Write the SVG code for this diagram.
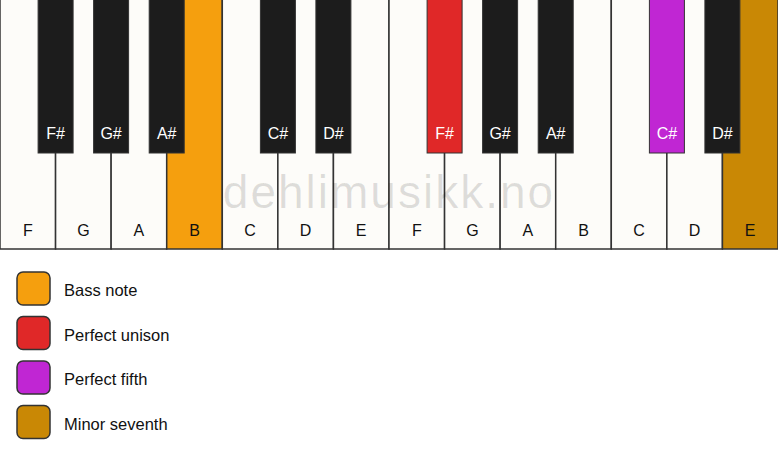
<svg xmlns="http://www.w3.org/2000/svg" width="778" height="461" viewBox="0 0 778 461">
<style>
.w{fill:#fdfcf9;stroke:#333;stroke-width:1.5}
.b{fill:#1c1c1c;stroke:#333;stroke-width:1}
.wl{font-family:"Liberation Sans",Arial,sans-serif;font-size:16px;fill:#111;text-anchor:middle}
.bl{font-family:"Liberation Sans",Arial,sans-serif;font-size:16px;fill:#fff;text-anchor:middle}
.lg{fill:#ccc;stroke:#333;stroke-width:1.5}
.lt{font-family:"Liberation Sans",Arial,sans-serif;font-size:16.5px;fill:#111}
.wm{font-family:"Liberation Sans",Arial,sans-serif;font-size:46px;fill:#000;fill-opacity:0.12;text-anchor:middle;letter-spacing:2px}
</style>
<rect width="778" height="461" fill="#fff"/>
<g id="white-keys">
<g id="wF1"><rect class="w" x="0" y="-2" width="55.57" height="251"/><text class="wl" x="27.8" y="236">F</text></g>
<g id="wG1"><rect class="w" x="55.57" y="-2" width="55.57" height="251"/><text class="wl" x="83.4" y="236">G</text></g>
<g id="wA1"><rect class="w" x="111.14" y="-2" width="55.57" height="251"/><text class="wl" x="138.9" y="236">A</text></g>
<g id="wB1"><rect class="w" x="166.71" y="-2" width="55.57" height="251" style="fill:#f59f0e"/><text class="wl" x="194.5" y="236">B</text></g>
<g id="wC1"><rect class="w" x="222.29" y="-2" width="55.57" height="251"/><text class="wl" x="250.1" y="236">C</text></g>
<g id="wD1"><rect class="w" x="277.86" y="-2" width="55.57" height="251"/><text class="wl" x="305.6" y="236">D</text></g>
<g id="wE1"><rect class="w" x="333.43" y="-2" width="55.57" height="251"/><text class="wl" x="361.2" y="236">E</text></g>
<g id="wF2"><rect class="w" x="389" y="-2" width="55.57" height="251"/><text class="wl" x="416.8" y="236">F</text></g>
<g id="wG2"><rect class="w" x="444.57" y="-2" width="55.57" height="251"/><text class="wl" x="472.4" y="236">G</text></g>
<g id="wA2"><rect class="w" x="500.14" y="-2" width="55.57" height="251"/><text class="wl" x="527.9" y="236">A</text></g>
<g id="wB2"><rect class="w" x="555.71" y="-2" width="55.57" height="251"/><text class="wl" x="583.5" y="236">B</text></g>
<g id="wC2"><rect class="w" x="611.29" y="-2" width="55.57" height="251"/><text class="wl" x="639.1" y="236">C</text></g>
<g id="wD2"><rect class="w" x="666.86" y="-2" width="55.57" height="251"/><text class="wl" x="694.6" y="236">D</text></g>
<g id="wE2"><rect class="w" x="722.43" y="-2" width="55.57" height="251" style="fill:#c98805"/><text class="wl" x="750.2" y="236">E</text></g>
</g>
<text class="wm" x="389" y="208">dehlimusikk.no</text>
<g id="black-keys">
<g id="bFs1"><rect class="b" x="38.1" y="-2" width="35" height="155"/><text class="bl" x="55.6" y="139">F#</text></g>
<g id="bGs1"><rect class="b" x="93.6" y="-2" width="35" height="155"/><text class="bl" x="111.1" y="139">G#</text></g>
<g id="bAs1"><rect class="b" x="149.2" y="-2" width="35" height="155"/><text class="bl" x="166.7" y="139">A#</text></g>
<g id="bCs1"><rect class="b" x="260.4" y="-2" width="35" height="155"/><text class="bl" x="277.9" y="139">C#</text></g>
<g id="bDs1"><rect class="b" x="315.9" y="-2" width="35" height="155"/><text class="bl" x="333.4" y="139">D#</text></g>
<g id="bFs2"><rect class="b" x="427.1" y="-2" width="35" height="155" style="fill:#e02828"/><text class="bl" x="444.6" y="139">F#</text></g>
<g id="bGs2"><rect class="b" x="482.6" y="-2" width="35" height="155"/><text class="bl" x="500.1" y="139">G#</text></g>
<g id="bAs2"><rect class="b" x="538.2" y="-2" width="35" height="155"/><text class="bl" x="555.7" y="139">A#</text></g>
<g id="bCs2"><rect class="b" x="649.4" y="-2" width="35" height="155" style="fill:#c026d3"/><text class="bl" x="666.9" y="139">C#</text></g>
<g id="bDs2"><rect class="b" x="704.9" y="-2" width="35" height="155"/><text class="bl" x="722.4" y="139">D#</text></g>
</g>
<g id="legend">
<g id="lg-bass"><rect class="lg" x="17" y="272" width="33" height="33" rx="6" style="fill:#f59f0e"/><text class="lt" x="64" y="296">Bass note</text></g>
<g id="lg-unison"><rect class="lg" x="17" y="316.5" width="33" height="33" rx="6" style="fill:#e02828"/><text class="lt" x="64" y="340.5">Perfect unison</text></g>
<g id="lg-fifth"><rect class="lg" x="17" y="361" width="33" height="33" rx="6" style="fill:#c026d3"/><text class="lt" x="64" y="385">Perfect fifth</text></g>
<g id="lg-seventh"><rect class="lg" x="17" y="405.5" width="33" height="33" rx="6" style="fill:#c98805"/><text class="lt" x="64" y="429.5">Minor seventh</text></g>
</g>
</svg>
